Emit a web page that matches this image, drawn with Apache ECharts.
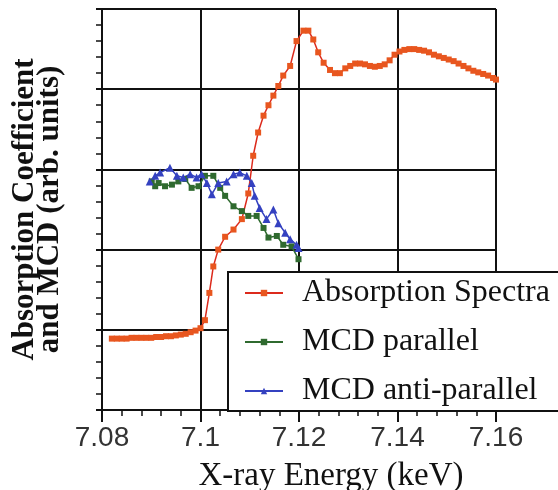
<!DOCTYPE html>
<html>
<head>
<meta charset="utf-8">
<script src="https://cdn.jsdelivr.net/npm/echarts@6/dist/echarts.min.js"></script>
<style>
  html, body { margin: 0; padding: 0; background: #fff; }
  #main { width: 558px; height: 490px; }
</style>
</head>
<body>
<div id="main"></div>
<script>
// energies (keV) and values (arb. units)
var absEnergy = [7.082, 7.083, 7.084, 7.085, 7.086, 7.087, 7.088, 7.089, 7.090, 7.091,
  7.092, 7.093, 7.094, 7.095, 7.096, 7.097, 7.098, 7.099, 7.100, 7.1009,
  7.1018, 7.1026, 7.1036, 7.105, 7.1067, 7.1084, 7.1097, 7.1107, 7.1117, 7.1128,
  7.1138, 7.1148, 7.1158, 7.1168, 7.1182, 7.1195, 7.1209, 7.1219, 7.1229, 7.1239,
  7.125, 7.1263, 7.1273, 7.1283, 7.1294, 7.1304, 7.1314, 7.1324, 7.1334, 7.1344,
  7.1354, 7.1364, 7.1374, 7.1384, 7.1394, 7.1404, 7.1414, 7.1424, 7.1434, 7.1444,
  7.1454, 7.1464, 7.1474, 7.1484, 7.1494, 7.1504, 7.1514, 7.1524, 7.1534, 7.1544,
  7.1554, 7.1564, 7.1574, 7.1584, 7.1594, 7.160];
var absValue = [0.89, 0.89, 0.89, 0.89, 0.90, 0.90, 0.90, 0.90, 0.90, 0.91,
  0.91, 0.92, 0.92, 0.93, 0.94, 0.95, 0.97, 0.99, 1.02, 1.12,
  1.46, 1.79, 2.00, 2.16, 2.25, 2.38, 2.70, 3.17, 3.46, 3.67,
  3.80, 3.92, 4.04, 4.17, 4.29, 4.60, 4.73, 4.73, 4.62, 4.46,
  4.33, 4.24, 4.20, 4.20, 4.26, 4.29, 4.32, 4.32, 4.31, 4.29,
  4.28, 4.29, 4.31, 4.36, 4.43, 4.47, 4.49, 4.50, 4.50, 4.49,
  4.48, 4.46, 4.43, 4.41, 4.39, 4.37, 4.35, 4.32, 4.29, 4.26,
  4.23, 4.21, 4.19, 4.17, 4.14, 4.12];

var parEnergy = [7.0901, 7.0908, 7.0915, 7.0928, 7.0942, 7.0955, 7.0969, 7.0982, 7.0996, 7.1009,
  7.1026, 7.104, 7.105, 7.1067, 7.1084, 7.1097, 7.1114, 7.1128, 7.1138, 7.1155,
  7.1168, 7.1185, 7.1199];
var parValue = [2.85, 2.79, 2.83, 2.79, 2.81, 2.85, 2.88, 2.77, 2.79, 2.92,
  2.92, 2.77, 2.67, 2.54, 2.48, 2.42, 2.42, 2.27, 2.15, 2.17,
  2.06, 2.04, 1.88];

var antiEnergy = [7.0897, 7.0908, 7.0918, 7.0938, 7.0952, 7.0965, 7.0979, 7.0992, 7.1002, 7.1013,
  7.1023, 7.1036, 7.1053, 7.1067, 7.108, 7.1094, 7.1104, 7.111, 7.112, 7.1134,
  7.1148, 7.1158, 7.1172, 7.1182, 7.1195, 7.1199];
var antiValue = [2.85, 2.92, 2.96, 3.02, 2.92, 2.90, 2.94, 2.90, 2.94, 2.83,
  2.69, 2.83, 2.85, 2.94, 2.96, 2.92, 2.83, 2.67, 2.52, 2.38,
  2.50, 2.33, 2.21, 2.13, 2.06, 2.02];

var seriesNames = ["Absorption Spectra", "MCD parallel", "MCD anti-parallel"];

function pairs(xs, ys) {
  var out = [];
  for (var i = 0; i < xs.length; i++) out.push([xs[i], ys[i]]);
  return out;
}

var chart = echarts.init(document.getElementById("main"));
var serif = "'Liberation Serif', 'DejaVu Serif', serif";

var option = {
  animation: false,
  backgroundColor: "#fff",
  grid: { left: 102, right: 62, top: 9, bottom: 80, outerBoundsMode: "none", containLabel: false },
  legend: {
    data: seriesNames,
    orient: "vertical",
    left: 228,
    top: 272,
    padding: [5, 30, 4, 16],
    itemGap: 17,
    itemWidth: 38,
    itemHeight: 8,
    backgroundColor: "#fff",
    borderColor: "#111",
    borderWidth: 2,
    textStyle: { fontFamily: serif, fontSize: 32, color: "#111", padding: [0, 0, 0, 14] }
  },
  xAxis: {
    type: "value",
    min: 7.08,
    max: 7.16,
    interval: 0.02,
    name: "X-ray Energy (keV)",
    nameLocation: "middle",
    nameGap: 50,
    nameTextStyle: { fontFamily: serif, fontSize: 33, color: "#111", padding: [0, 0, 0, 64] },
    axisLine: { lineStyle: { color: "#111", width: 2 } },
    axisTick: { length: 12, lineStyle: { color: "#111", width: 2 } },
    minorTick: { show: true, splitNumber: 5, length: 6, lineStyle: { color: "#111", width: 1.5 } },
    axisLabel: {
      margin: 14,
      fontFamily: "'Liberation Sans', Arial, sans-serif",
      fontSize: 28,
      color: "#333",
      formatter: function (v) { return String(+v.toFixed(2)); }
    },
    splitLine: { show: true, lineStyle: { color: "#111", width: 2 } }
  },
  yAxis: {
    type: "value",
    min: 0,
    max: 5,
    interval: 1,
    name: "Absorption Coefficient\nand MCD (arb. units)",
    nameLocation: "middle",
    nameGap: 40,
    nameTextStyle: { fontFamily: serif, fontSize: 31, fontWeight: "bold", color: "#111", lineHeight: 25 },
    axisLine: { lineStyle: { color: "#111", width: 2 } },
    axisTick: { length: 6, lineStyle: { color: "#111", width: 2 } },
    minorTick: { show: true, splitNumber: 5, length: 6, lineStyle: { color: "#111", width: 1.5 } },
    axisLabel: { show: false },
    splitLine: { show: true, lineStyle: { color: "#111", width: 2 } }
  },
  series: [
    {
      name: seriesNames[0],
      type: "line",
      data: pairs(absEnergy, absValue),
      symbol: "rect",
      symbolSize: 6,
      lineStyle: { color: "#dc2a1c", width: 1.5 },
      itemStyle: { color: "#e8561f" }
    },
    {
      name: seriesNames[1],
      type: "line",
      data: pairs(parEnergy, parValue),
      symbol: "rect",
      symbolSize: 6,
      lineStyle: { color: "#2f6a2f", width: 1.5 },
      itemStyle: { color: "#2f6a2f" }
    },
    {
      name: seriesNames[2],
      type: "line",
      data: pairs(antiEnergy, antiValue),
      symbol: "triangle",
      symbolSize: 8,
      lineStyle: { color: "#3441c0", width: 1.5 },
      itemStyle: { color: "#3441c0" }
    }
  ]
};

chart.setOption(option);
</script>
</body>
</html>
